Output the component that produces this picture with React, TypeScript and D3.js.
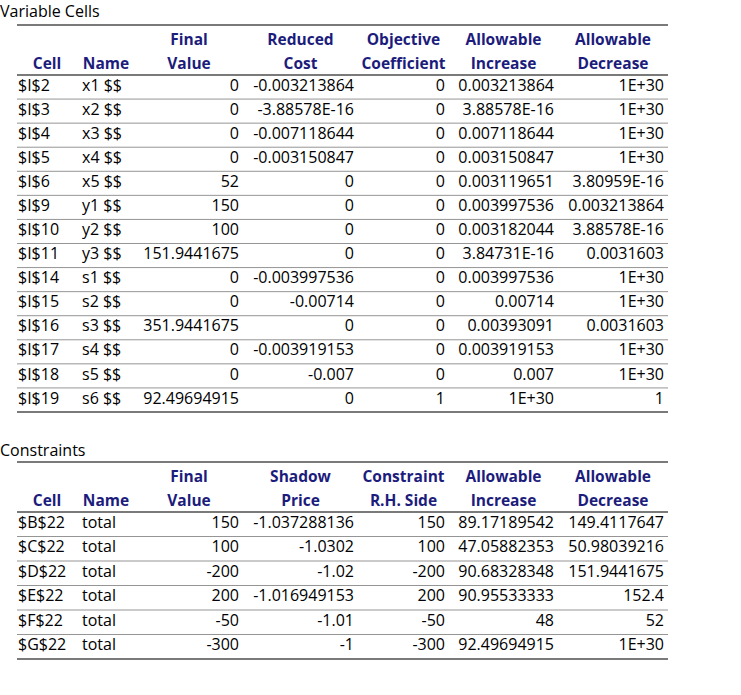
import React, { useEffect, useRef } from 'react';
import * as d3 from 'd3';

// Variable Cells table
const varCells = ['$I$2', '$I$3', '$I$4', '$I$5', '$I$6', '$I$9', '$I$10', '$I$11', '$I$14', '$I$15', '$I$16', '$I$17', '$I$18', '$I$19'];
const varNames = ['x1 $$', 'x2 $$', 'x3 $$', 'x4 $$', 'x5 $$', 'y1 $$', 'y2 $$', 'y3 $$', 's1 $$', 's2 $$', 's3 $$', 's4 $$', 's5 $$', 's6 $$'];
const varFinal = ['0', '0', '0', '0', '52', '150', '100', '151.9441675', '0', '0', '351.9441675', '0', '0', '92.49694915'];
const varReduced = ['-0.003213864', '-3.88578E-16', '-0.007118644', '-0.003150847', '0', '0', '0', '0', '-0.003997536', '-0.00714', '0', '-0.003919153', '-0.007', '0'];
const varObjective = ['0', '0', '0', '0', '0', '0', '0', '0', '0', '0', '0', '0', '0', '1'];
const varIncrease = ['0.003213864', '3.88578E-16', '0.007118644', '0.003150847', '0.003119651', '0.003997536', '0.003182044', '3.84731E-16', '0.003997536', '0.00714', '0.00393091', '0.003919153', '0.007', '1E+30'];
const varDecrease = ['1E+30', '1E+30', '1E+30', '1E+30', '3.80959E-16', '0.003213864', '3.88578E-16', '0.0031603', '1E+30', '1E+30', '0.0031603', '1E+30', '1E+30', '1'];
const varHeaders = [['', 'Cell'], ['', 'Name'], ['Final', 'Value'], ['Reduced', 'Cost'], ['Objective', 'Coefficient'], ['Allowable', 'Increase'], ['Allowable', 'Decrease']];

// Constraints table
const conCells = ['$B$22', '$C$22', '$D$22', '$E$22', '$F$22', '$G$22'];
const conNames = ['total', 'total', 'total', 'total', 'total', 'total'];
const conFinal = ['150', '100', '-200', '200', '-50', '-300'];
const conShadow = ['-1.037288136', '-1.0302', '-1.02', '-1.016949153', '-1.01', '-1'];
const conRHS = ['150', '100', '-200', '200', '-50', '-300'];
const conIncrease = ['89.17189542', '47.05882353', '90.68328348', '90.95533333', '48', '92.49694915'];
const conDecrease = ['149.4117647', '50.98039216', '151.9441675', '152.4', '52', '1E+30'];
const conHeaders = [['', 'Cell'], ['', 'Name'], ['Final', 'Value'], ['Shadow', 'Price'], ['Constraint', 'R.H. Side'], ['Allowable', 'Increase'], ['Allowable', 'Decrease']];

const App = () => {
    const ref = useRef<SVGSVGElement>(null);

    useEffect(() => {
        const width = 741;
        const height = 695;
        const svg = d3.select(ref.current);
        svg.selectAll('*').remove();
        svg.attr('width', width).attr('height', height);

        const font = "'Open Sans', sans-serif";
        const fontSize = 16;
        const headSize = 15.5;
        const navy = '#1c1c7c';
        const ruleColor = '#7a7a7a';
        const thinColor = '#959595';

        // column boundaries shared by both tables
        const colEdges = [17, 77, 135, 243, 358, 449, 558, 668];

        const drawTable = (
            title: string,
            titleY: number,
            topY: number,
            headerY: number,
            bottomY: number,
            headers: string[][],
            columns: string[][]
        ) => {
            const g = svg.append('g');

            g.append('text')
                .attr('x', 0)
                .attr('y', titleY)
                .attr('font-family', font)
                .attr('font-size', fontSize)
                .attr('fill', '#000')
                .text(title);

            // headers
            headers.forEach((h, i) => {
                const cx = (colEdges[i] + colEdges[i + 1]) / 2;
                h.forEach((line, j) => {
                    if (!line) return;
                    g.append('text')
                        .attr('x', cx)
                        .attr('y', topY + 19.5 + j * 24)
                        .attr('text-anchor', 'middle')
                        .attr('font-family', font)
                        .attr('font-size', headSize)
                        .attr('font-weight', 'bold')
                        .attr('fill', navy)
                        .text(line);
                });
            });

            const n = columns[0].length;
            const y = d3.scaleBand<number>()
                .domain(d3.range(n))
                .range([headerY, bottomY]);

            // thin row separators
            g.selectAll('.sep')
                .data(d3.range(1, n))
                .enter()
                .append('line')
                .attr('x1', colEdges[0])
                .attr('x2', colEdges[colEdges.length - 1])
                .attr('y1', d => y(d)!)
                .attr('y2', d => y(d)!)
                .attr('stroke', thinColor)
                .attr('stroke-width', 1);

            // cells
            columns.forEach((col, ci) => {
                const left = ci < 2;
                const x = left
                    ? colEdges[ci] + (ci === 0 ? 1 : 5)
                    : colEdges[ci + 1] - 4;
                g.selectAll(`.c${ci}`)
                    .data(col)
                    .enter()
                    .append('text')
                    .attr('x', x)
                    .attr('y', (_d, i) => y(i)! + y.bandwidth() * 0.65)
                    .attr('text-anchor', left ? 'start' : 'end')
                    .attr('font-family', font)
                    .attr('font-size', fontSize)
                    .attr('fill', '#000')
                    .text(d => d);
            });

            // thick rules
            [topY, headerY, bottomY].forEach(ry => {
                g.append('line')
                    .attr('x1', colEdges[0])
                    .attr('x2', colEdges[colEdges.length - 1])
                    .attr('y1', ry)
                    .attr('y2', ry)
                    .attr('stroke', ruleColor)
                    .attr('stroke-width', 2);
            });
        };

        drawTable('Variable Cells', 17, 25, 75, 412, varHeaders,
            [varCells, varNames, varFinal, varReduced, varObjective, varIncrease, varDecrease]);
        drawTable('Constraints', 456, 462, 512, 659, conHeaders,
            [conCells, conNames, conFinal, conShadow, conRHS, conIncrease, conDecrease]);
    }, []);

    return (
        <div style={{ position: 'absolute', left: 0, top: 0, background: '#fff' }}>
            <svg ref={ref} style={{ display: 'block' }}></svg>
        </div>
    );
};

export default App;
